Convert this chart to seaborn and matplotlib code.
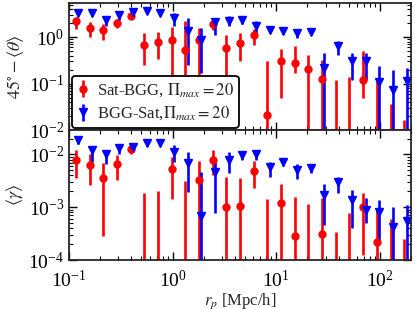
# %% Imports

import matplotlib
matplotlib.use("Agg")
import matplotlib.pyplot as plt
import numpy as np
import seaborn as sns

# %% Data

rp_red = [0.116, 0.158, 0.214, 0.290, 0.393, 0.532, 0.722, 0.978, 1.33, 1.80,
          2.43, 3.30, 4.47, 6.06, 8.22, 11.1, 15.1, 20.4, 27.7, 37.6,
          50.9, 69.0, 93.5, 127, 172]
rp_blue = [0.123, 0.167, 0.226, 0.306, 0.415, 0.561, 0.762, 1.03, 1.40, 1.90,
           2.56, 3.48, 4.72, 6.39, 8.67, 11.7, 15.9, 21.5, 29.2, 39.7,
           53.7, 72.8, 98.6, 134, 181]

# 45 deg - <theta>, Sat-BGG (value, lower bound, upper bound)
theta_red = [2.16, 1.56, 1.43, 2.0, 2.86, 0.68, 0.78, 0.875, 0.52, 0.875,
             1.93, 0.57, 0.74, 1.12, 0.0206, 0.30, 0.27, 0.206, 0.126, 1e-3,
             1e-3, 0.122, 1e-3, 1e-3, 1e-3]
theta_red_lo = [1.48, 1.0, 0.85, 1.56, 2.55, 0.255, 0.33, 0.03, 0.03, 0.05,
                1.43, 0.05, 0.30, 0.68, 1e-4, 0.049, 0.17, 1e-4, 1e-4, 1e-4,
                1e-4, 0.049, 1e-4, 1e-4, 1e-4]
theta_red_hi = [2.76, 2.06, 1.93, 2.43, 3.16, 1.22, 1.26, 1.64, 2.16, 1.56,
                2.55, 1.12, 1.22, 1.48, 0.31, 0.553, 0.63, 0.418, 0.315, 0.12,
                0.139, 0.49, 0.12, 0.0355, 0.0164]

# 45 deg - <theta>, BGG-Sat
theta_blue = [3.36, 3.36, 2.35, 3.0, 3.53, 3.7, 3.36, 2.55, 1.32, 0.875,
              2.1, 2.16, 2.35, 1.75, 1.43, 1.32, 1.22, 1.28, 0.217, 0.63,
              0.30, 0.31, 0.107, 0.074, 0.112]
theta_blue_lo = [2.9, 2.9, 1.69, 2.35, 3.1, 3.4, 3.0, 1.75, 0.255, 0.17,
                 1.12, 1.69, 1.9, 1.22, 1.2, 1.15, 0.95, 1.1, 1e-4, 0.42,
                 0.12, 0.12, 1e-4, 1e-4, 1e-4]
theta_blue_hi = [3.8, 3.8, 2.68, 3.37, 3.9, 4.0, 3.7, 3.26, 2.55, 1.56,
                 2.55, 2.77, 2.7, 2.16, 1.7, 1.55, 1.45, 1.45, 0.454, 0.81,
                 0.454, 0.454, 0.235, 0.2, 0.217]

# <gamma>, Sat-BGG
gamma_red = [7.8e-3, 6.3e-3, 3.5e-3, 6.5e-3, 0.0126, 1e-5, 1e-5, 5.4e-3, 1e-5, 3.3e-3,
             8.0e-3, 1.02e-3, 1.07e-3, 4.9e-3, 1e-5, 1.19e-3, 2.9e-4, 1e-5, 3.1e-4, 1e-5,
             1e-5, 1.0e-3, 2.2e-4, 1e-5, 1e-5]
gamma_red_lo = [3.55e-3, 2.6e-3, 2.8e-4, 3.3e-3, 0.010, 1e-6, 1e-6, 1.4e-3, 1e-6, 1e-6,
                4e-3, 1e-6, 1e-6, 2.3e-3, 1e-6, 1e-6, 1e-6, 1e-6, 1e-6, 1e-6,
                1e-6, 1.26e-4, 1e-6, 1e-6, 1e-6]
gamma_red_hi = [0.012, 0.010, 6.8e-3, 9.7e-3, 0.0146, 1.84e-3, 2.04e-3, 9e-3, 3.1e-3, 7.5e-3,
                0.012, 3.8e-3, 3.6e-3, 7.5e-3, 1.45e-3, 2.7e-3, 1.58e-3, 1.14e-3, 1.48e-3, 3.4e-4,
                7.7e-4, 1.84e-3, 9.6e-4, 6.0e-4, 2.5e-4]

# <gamma>, BGG-Sat
gamma_blue = [0.0186, 0.012, 0.010, 0.0133, 0.0139, 0.0161, 0.0161, 0.0112, 6.8e-3, 6.9e-4,
              4.7e-3, 8.0e-3, 9.7e-3, 0.010, 5.8e-3, 7.2e-3, 5.1e-3, 5.6e-3, 1.7e-3, 3.0e-3,
              1.37e-3, 8.9e-4, 8.0e-4, 4.3e-4, 5.4e-4]
gamma_blue_lo = [0.016, 7.3e-3, 6.5e-3, 0.010, 0.011, 0.0145, 0.0145, 7.3e-3, 1.97e-3, 1e-6,
                 7.7e-4, 4.4e-3, 8e-3, 8e-3, 3.8e-3, 6e-3, 3.4e-3, 4.5e-3, 4.6e-4, 1.84e-3,
                 4e-4, 5e-4, 2.4e-4, 1e-6, 1e-6]
gamma_blue_hi = [0.021, 0.0139, 0.0115, 0.0155, 0.0155, 0.018, 0.018, 0.015, 0.0112, 4.7e-3,
                 8.4e-3, 0.0112, 0.0115, 0.012, 7.1e-3, 8.5e-3, 6.5e-3, 6.5e-3, 2.8e-3, 3.8e-3,
                 2.1e-3, 1.48e-3, 1.37e-3, 1.03e-3, 1.1e-3]

# %% Style

sns.set_style("ticks")
plt.rcParams["font.family"] = ["Liberation Serif", "DejaVu Serif"]
plt.rcParams["mathtext.fontset"] = "stix"
plt.rcParams["axes.linewidth"] = 1.3
for ax_name in ("xtick", "ytick"):
    plt.rcParams[f"{ax_name}.direction"] = "in"
    plt.rcParams[f"{ax_name}.major.size"] = 6
    plt.rcParams[f"{ax_name}.minor.size"] = 3
    plt.rcParams[f"{ax_name}.major.width"] = 1.0
    plt.rcParams[f"{ax_name}.minor.width"] = 0.8
    plt.rcParams[f"{ax_name}.color"] = "black"
plt.rcParams["xtick.top"] = True
plt.rcParams["ytick.right"] = True


def draw(ax, x, y, lo, hi, color, marker, ms, label):
    y = np.asarray(y)
    yerr = [y - np.asarray(lo), np.asarray(hi) - y]
    ax.errorbar(x, y, yerr=yerr, fmt=marker, color=color, ms=ms,
                elinewidth=1.9, capsize=0, label=label)


# %% Plot

fig = plt.figure(figsize=(4.15, 3.09), dpi=100)
gs = fig.add_gridspec(2, 1, height_ratios=[127, 130], hspace=0,
                      left=69 / 415, right=411 / 415, top=1 - 3 / 309, bottom=1 - 260 / 309)
ax1 = fig.add_subplot(gs[0])
ax2 = fig.add_subplot(gs[1], sharex=ax1)

draw(ax1, rp_red, theta_red, theta_red_lo, theta_red_hi, "red", "o", 5,
     r"Sat-BGG, $\Pi_{max} = 20$")
draw(ax1, rp_blue, theta_blue, theta_blue_lo, theta_blue_hi, "blue", "v", 5.5,
     r"BGG-Sat,$\Pi_{max} = 20$")
draw(ax2, rp_red, gamma_red, gamma_red_lo, gamma_red_hi, "red", "o", 5, None)
draw(ax2, rp_blue, gamma_blue, gamma_blue_lo, gamma_blue_hi, "blue", "v", 5.5, None)

for ax in (ax1, ax2):
    ax.set_xscale("log")
    ax.set_yscale("log")
    ax.tick_params(which="both", labelsize=14)
ax1.set_xlim(0.1, 200)
ax1.set_ylim(0.01, 5.4)
ax2.set_ylim(1e-4, 0.029)
ax1.tick_params(labelbottom=False)
ax2.tick_params(axis="x", which="both", pad=7)

ax1.set_ylabel(r"$45^{\circ}-\langle\theta\rangle$", fontsize=13, labelpad=2)
ax2.set_ylabel(r"$\langle\gamma\rangle$", fontsize=13, labelpad=2)
ax2.set_xlabel(r"$r_p$ [Mpc/h]", fontsize=12, labelpad=0)

leg = ax1.legend(loc="lower left", fontsize=12, handlelength=0.8, handletextpad=0.4,
                 borderaxespad=0.15, borderpad=0.3, labelspacing=0.35,
                 fancybox=True, framealpha=1, edgecolor="black")
leg.get_frame().set_linewidth(1.3)

fig.savefig("out.png", dpi=100)
